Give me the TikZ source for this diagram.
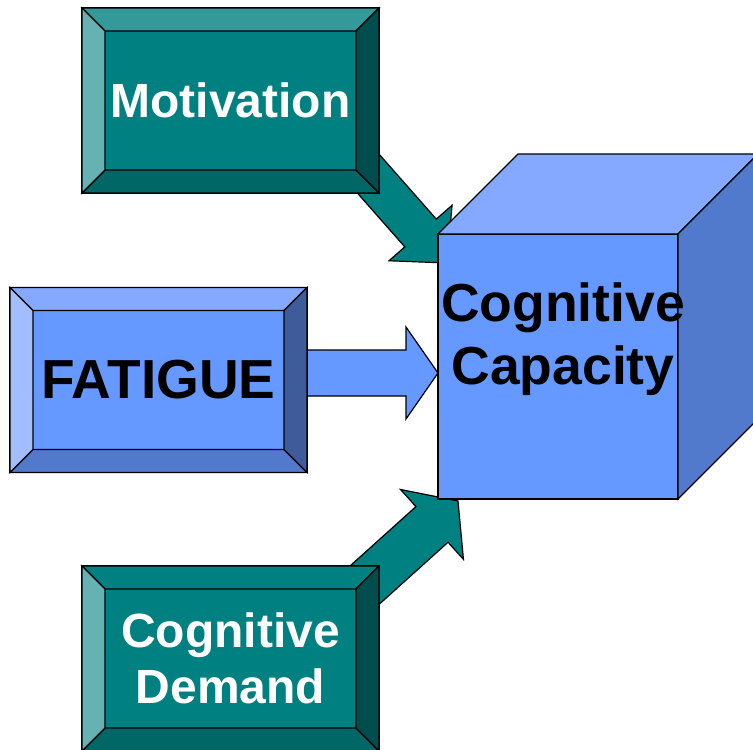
\documentclass[tikz,border=0pt]{standalone}
\usepackage{fontspec}
\setmainfont{Liberation Sans}
\usetikzlibrary{calc}
\definecolor{tealface}{HTML}{008080}
\definecolor{tealtop}{HTML}{339999}
\definecolor{tealleft}{HTML}{66B2B2}
\definecolor{tealright}{HTML}{004D4D}
\definecolor{tealbot}{HTML}{006666}
\colorlet{deepface}{tealface}
\colorlet{deeptop}{tealface}
\colorlet{deepleft}{tealleft}
\colorlet{deepright}{tealright}
\colorlet{deepbot}{tealbot}
\definecolor{blueface}{HTML}{6699FF}
\definecolor{bluetop}{HTML}{85A9FF}
\definecolor{blueleft}{HTML}{A3BEFF}
\definecolor{blueright}{HTML}{3D5C99}
\definecolor{bluebot}{HTML}{527ACC}
\tikzstyle{bevel} = [draw=black, line width=1.2pt, minimum width=297pt, minimum height=185pt, inner sep=0pt, outer sep=0pt, align=center]
\tikzstyle{facet} = [draw=black, line width=1.2pt, line join=miter]
\tikzstyle{cubeface} = [draw=black, line width=1.2pt, fill=blueface, minimum width=240pt, minimum height=265pt, inner sep=0pt, outer sep=0pt]
\tikzstyle{whitelabel} = [text=white, font=\fontsize{48}{56}\selectfont\bfseries]
\tikzstyle{blacklabel} = [text=black, font=\fontsize{55}{63}\selectfont\bfseries]
\tikzstyle{cubelabel} = [text=black, align=center, inner sep=0pt, font=\fontsize{53.5}{63}\selectfont\bfseries]
\newcommand{\bv}{23}
\newcommand{\bevelbox}[5]{
	\node[bevel, fill=#3face, #4] (#1) at (#2) {#5};
	\filldraw[facet, fill=#3top] (#1.north west) -- (#1.north east) -- ($(#1.north east)+(-\bv,\bv)$) -- ($(#1.north west)+(\bv,\bv)$) -- cycle;
	\filldraw[facet, fill=#3bot] (#1.south west) -- (#1.south east) -- ($(#1.south east)+(-\bv,-\bv)$) -- ($(#1.south west)+(\bv,-\bv)$) -- cycle;
	\filldraw[facet, fill=#3left] (#1.north west) -- (#1.south west) -- ($(#1.south west)+(\bv,-\bv)$) -- ($(#1.north west)+(\bv,\bv)$) -- cycle;
	\filldraw[facet, fill=#3right] (#1.north east) -- (#1.south east) -- ($(#1.south east)+(-\bv,-\bv)$) -- ($(#1.north east)+(-\bv,\bv)$) -- cycle;
}
\newcommand{\blockarrow}[6]{
	\coordinate (#3-n) at ($(#3)!#6!(#2)$);
	\filldraw[facet, fill=#1] ($(#2)!#4!90:(#3)$) -- ($(#3-n)!#4!90:(#3)$) -- ($(#3-n)!#5!90:(#3)$) -- (#3)
		-- ($(#3-n)!#5!-90:(#3)$) -- ($(#3-n)!#4!-90:(#3)$) -- ($(#2)!#4!-90:(#3)$) -- cycle;
}

\begin{document}
\begin{tikzpicture}[x=1pt, y=-1pt]
	\useasboundingbox (0,0) rectangle (753,750);
	\coordinate (mot-out) at (321,120);
	\coordinate (mot-tip) at (447,263);
	\coordinate (fat-out) at (280,373);
	\coordinate (fat-tip) at (438,373);
	\coordinate (dem-out) at (347,601);
	\coordinate (dem-tip) at (458,501);
	\blockarrow{tealface}{mot-out}{mot-tip}{21pt}{42pt}{40pt}
	\blockarrow{blueface}{fat-out}{fat-tip}{23pt}{46pt}{32pt}
	\blockarrow{tealface}{dem-out}{dem-tip}{24pt}{47pt}{35pt}
	\bevelbox{mot}{230.5,100.5}{teal}{whitelabel}{Motivation}
	\bevelbox{fat}{158.5,380}{blue}{blacklabel}{FATIGUE}
	\bevelbox{dem}{230.5,658.5}{deep}{whitelabel}{Cognitive\\Demand}
	\node[cubeface] (cube) at (558,366.5) {};
	\filldraw[facet, fill=bluetop] (cube.north west) -- ++(80,-80) -- ($(cube.north east)+(80,-80)$) -- (cube.north east) -- cycle;
	\filldraw[facet, fill=bluebot] (cube.north east) -- ++(80,-80) -- ($(cube.south east)+(80,-80)$) -- (cube.south east) -- cycle;
	\node[cubelabel] (cubetext) at (563,339) {Cognitive\\Capacity};
\end{tikzpicture}
\end{document}
